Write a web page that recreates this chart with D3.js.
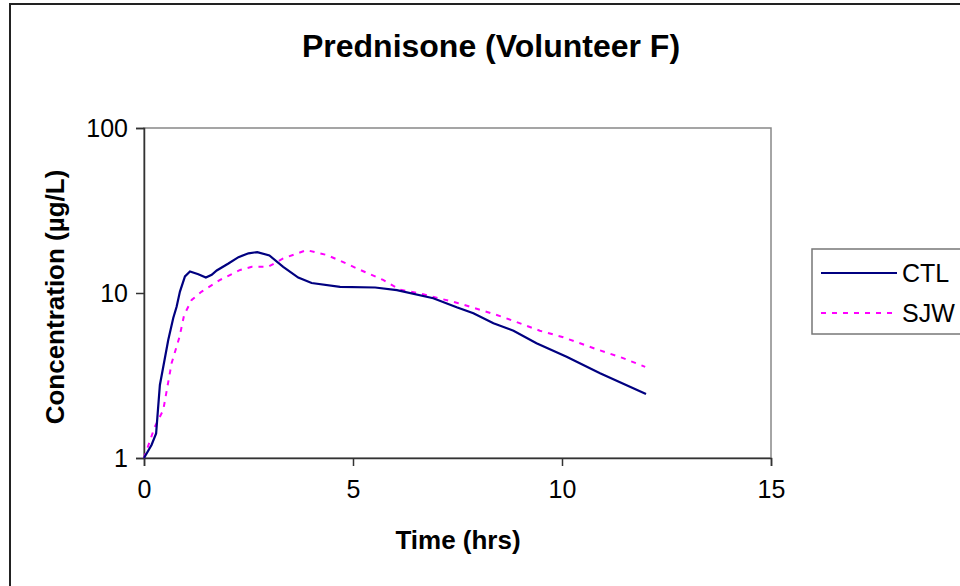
<!DOCTYPE html>
<html>
<head>
<meta charset="utf-8">
<script src="https://cdn.jsdelivr.net/npm/d3@7"></script>
<style>
    body { margin: 0; background: #fff; }
    text { font-family: "Liberation Sans", Arial, sans-serif; fill: #000; }
</style>
</head>
<body>
<div id="chart"></div>
<script>
// data
var ctlTime = [0, 0.18, 0.29, 0.38, 0.58, 0.70, 0.78, 0.86, 0.98, 1.10, 1.30, 1.48, 1.62, 1.74, 2.02, 2.26, 2.50, 2.71, 3.00, 3.33, 3.69, 4.01, 4.69, 5.53, 6.05, 6.92, 7.48, 7.88, 8.36, 8.84, 9.39, 10.11, 10.91, 12.01];
var ctlConc = [1.0, 1.20, 1.41, 2.77, 5.19, 7.05, 8.26, 10.2, 12.6, 13.5, 13.0, 12.4, 12.9, 13.7, 15.1, 16.5, 17.4, 17.7, 16.9, 14.4, 12.4, 11.5, 10.9, 10.8, 10.4, 9.29, 8.19, 7.53, 6.55, 5.91, 4.96, 4.11, 3.26, 2.44];
var sjwTime = [0, 0.26, 0.46, 0.66, 0.85, 0.96, 1.14, 1.38, 1.82, 2.30, 2.58, 2.97, 3.33, 3.89, 4.37, 4.69, 5.17, 5.72, 6.12, 6.68, 7.48, 7.80, 8.44, 8.60, 9.47, 10.03, 10.83, 11.43, 11.99];
var sjwConc = [1.0, 1.55, 1.95, 3.75, 5.43, 7.36, 9.07, 10.2, 12.0, 13.8, 14.4, 14.4, 16.2, 18.2, 17.0, 15.7, 13.8, 12.0, 10.5, 9.82, 8.73, 8.26, 7.36, 7.13, 5.91, 5.39, 4.56, 4.06, 3.57];
var xTicks = [0, 5, 10, 15];
var yTicks = [1, 10, 100];
var seriesNames = ["CTL", "SJW"];

var svgwidth = 960, svgheight = 586;
var margin = {top: 128, right: 189, bottom: 128, left: 144};
var width = svgwidth - margin.left - margin.right;
var height = svgheight - margin.top - margin.bottom;

var svg = d3.select("#chart")
    .append("svg")
    .attr("width", svgwidth)
    .attr("height", svgheight);

// outer chart frame
svg.append("rect")
    .attr("x", 10).attr("y", 4)
    .attr("width", 980).attr("height", 620)
    .attr("fill", "none")
    .attr("stroke", "#222")
    .attr("stroke-width", 2);

svg.append("text")
    .attr("x", 491).attr("y", 57)
    .attr("text-anchor", "middle")
    .style("font-size", "32px")
    .style("font-weight", "bold")
    .text("Prednisone (Volunteer F)");

var g = svg.append("g")
    .attr("transform", "translate(" + margin.left + "," + margin.top + ")");

var x = d3.scaleLinear().domain([0, 15]).range([0, width]);
var y = d3.scaleLog().domain([1, 100]).range([height, 0]);

// plot area border (top/right grey)
g.append("rect")
    .attr("x", 0).attr("y", 0)
    .attr("width", width).attr("height", height)
    .attr("fill", "none")
    .attr("stroke", "#888")
    .attr("stroke-width", 1.5);

var xAxisg = g.append("g")
    .attr("transform", "translate(0," + height + ")")
    .call(d3.axisBottom(x).tickValues(xTicks).tickSize(8).tickPadding(14).tickFormat(d3.format("d")));
var yAxisg = g.append("g")
    .call(d3.axisLeft(y).tickValues(yTicks).tickSize(8).tickPadding(8).tickFormat(d3.format("d")));

[xAxisg, yAxisg].forEach(function(a) {
    a.select(".domain").attr("stroke", "#333").attr("stroke-width", 1.5);
    a.selectAll(".tick line").attr("stroke", "#333").attr("stroke-width", 1.5);
    a.selectAll(".tick text")
        .style("font-size", "25px")
        .style("font-family", "Liberation Sans, Arial, sans-serif")
        .attr("fill", "#000");
});

svg.append("text")
    .attr("x", 458).attr("y", 549)
    .attr("text-anchor", "middle")
    .style("font-size", "26px")
    .style("font-weight", "bold")
    .text("Time (hrs)");

svg.append("text")
    .attr("transform", "translate(64,297) rotate(-90)")
    .attr("text-anchor", "middle")
    .style("font-size", "26px")
    .style("font-weight", "bold")
    .text("Concentration (µg/L)");

var line = d3.line()
    .x(function(d) { return x(d[0]); })
    .y(function(d) { return y(d[1]); });

var ctlData = ctlTime.map(function(t, i) { return [t, ctlConc[i]]; });
var sjwData = sjwTime.map(function(t, i) { return [t, sjwConc[i]]; });

g.append("path")
    .datum(sjwData)
    .attr("d", line)
    .attr("fill", "none")
    .attr("stroke", "#ff00ff")
    .attr("stroke-width", 2)
    .attr("stroke-dasharray", "5,6");

g.append("path")
    .datum(ctlData)
    .attr("d", line)
    .attr("fill", "none")
    .attr("stroke", "#000080")
    .attr("stroke-width", 2.2);

// legend
var legend = svg.append("g").attr("transform", "translate(812,249)");
legend.append("rect")
    .attr("width", 200).attr("height", 85)
    .attr("fill", "#fff")
    .attr("stroke", "#777")
    .attr("stroke-width", 1.5);

var items = legend.selectAll(".item")
    .data(seriesNames)
    .enter().append("g")
    .attr("transform", function(d, i) { return "translate(0," + (24 + i * 40) + ")"; });
items.append("line")
    .attr("x1", 9).attr("x2", 85)
    .attr("stroke", function(d, i) { return i == 0 ? "#000080" : "#ff00ff"; })
    .attr("stroke-width", 2)
    .attr("stroke-dasharray", function(d, i) { return i == 0 ? null : "5,6"; });
items.append("text")
    .attr("x", 90).attr("y", 9)
    .style("font-size", "25px")
    .text(function(d) { return d; });
</script>
</body>
</html>
